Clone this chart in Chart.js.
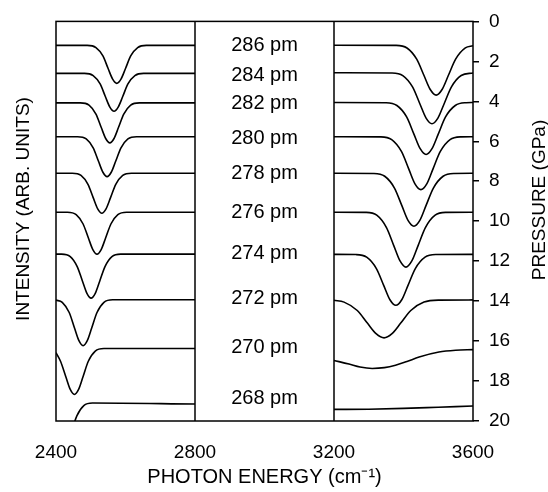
<!DOCTYPE html>
<html>
<head>
<meta charset="utf-8">
<script src="https://cdn.jsdelivr.net/npm/chart.js@4/dist/chart.umd.min.js"></script>
<style>
  html, body { margin: 0; padding: 0; background: #fff; }
  #wrap { width: 548px; height: 492px; }
</style>
</head>
<body>
<div id="wrap"><canvas id="spectra" width="548" height="492"></canvas></div>
<script>
// Axis values
const energyTicks = [2400, 2800, 3200, 3600];
const gapEdges = [2800, 3200];
const pressureMin = 0;
const pressureMax = 20;

// Bond length labels in the middle box
const pmLabels = ['286 pm', '284 pm', '282 pm', '280 pm', '278 pm', '276 pm', '274 pm', '272 pm', '270 pm', '268 pm'];
const labelPressure = [1.19, 2.69, 4.13, 5.87, 7.61, 9.55, 11.64, 13.88, 16.32, 18.86];
const labelEnergy = 3000;

// Low band (2400-2800) spectra, [energy, pressure offset]
const low286 = [[2400,1.2],[2490,1.2],[2515,1.31],[2535,1.73],[2550,2.36],[2563,2.89],[2575,3.1],[2587,2.89],[2600,2.36],[2615,1.73],[2635,1.31],[2660,1.2],[2800,1.2]];
const low284 = [[2400,2.6],[2482,2.6],[2507,2.71],[2527,3.13],[2542,3.76],[2555,4.29],[2567,4.5],[2579,4.29],[2592,3.76],[2607,3.13],[2627,2.71],[2652,2.6],[2800,2.6]];
const low282 = [[2400,4.08],[2470,4.08],[2495,4.19],[2515,4.64],[2530,5.3],[2543,5.86],[2555,6.08],[2567,5.86],[2580,5.3],[2595,4.64],[2615,4.19],[2640,4.08],[2800,4.08]];
const low280 = [[2400,5.77],[2462,5.77],[2487,5.88],[2507,6.33],[2522,6.99],[2535,7.55],[2547,7.77],[2559,7.55],[2572,6.99],[2587,6.33],[2607,5.88],[2632,5.77],[2800,5.77]];
const low278 = [[2400,7.6],[2447,7.6],[2472,7.71],[2492,8.16],[2507,8.82],[2520,9.38],[2532,9.6],[2544,9.38],[2557,8.82],[2572,8.16],[2592,7.71],[2617,7.6],[2800,7.6]];
const low276 = [[2400,9.55],[2433,9.55],[2458,9.67],[2478,10.14],[2493,10.83],[2506,11.42],[2518,11.65],[2530,11.42],[2543,10.83],[2558,10.14],[2578,9.67],[2603,9.55],[2800,9.55]];
const low274 = [[2400,11.65],[2416,11.65],[2441,11.77],[2461,12.27],[2476,12.99],[2489,13.61],[2501,13.85],[2513,13.61],[2526,12.99],[2541,12.27],[2561,11.77],[2586,11.65],[2800,11.65]];
const low272 = [[2400,13.95],[2418,14.06],[2438,14.57],[2453,15.33],[2466,15.98],[2478,16.23],[2490,15.98],[2503,15.33],[2518,14.57],[2538,14.06],[2563,13.93],[2800,13.93]];
const low270 = [[2400,16.58],[2413,17.01],[2428,17.77],[2441,18.42],[2453,18.67],[2465,18.42],[2478,17.77],[2493,17.01],[2513,16.5],[2538,16.37],[2800,16.37]];
const low268 = [[2400,20.78],[2420,21.4],[2432,21.15],[2445,20.5],[2460,19.74],[2480,19.23],[2505,19.1],[2800,19.15]];

// High band (3200-3600) spectra
const high286 = [[3200,1.19],[3379,1.2],[3410,1.33],[3438,1.89],[3459,2.71],[3477,3.41],[3494,3.69],[3511,3.41],[3529,2.71],[3550,1.89],[3578,1.33],[3600,1.22]];
const high284 = [[3200,2.57],[3367,2.58],[3398,2.71],[3426,3.28],[3447,4.12],[3465,4.84],[3482,5.12],[3499,4.84],[3517,4.12],[3538,3.28],[3566,2.71],[3600,2.58]];
const high282 = [[3200,4.06],[3350,4.07],[3381,4.21],[3409,4.78],[3430,5.64],[3448,6.37],[3465,6.66],[3482,6.37],[3500,5.64],[3521,4.78],[3549,4.21],[3580,4.07],[3600,4.06]];
const high280 = [[3200,5.77],[3335,5.78],[3366,5.92],[3394,6.51],[3415,7.38],[3433,8.13],[3450,8.42],[3467,8.13],[3485,7.38],[3506,6.51],[3534,5.92],[3565,5.78],[3600,5.77]];
const high278 = [[3200,7.6],[3315,7.61],[3346,7.75],[3374,8.34],[3395,9.21],[3413,9.96],[3430,10.25],[3447,9.96],[3465,9.21],[3486,8.34],[3514,7.75],[3545,7.61],[3600,7.6]];
const high276 = [[3200,9.55],[3292,9.56],[3323,9.7],[3351,10.32],[3372,11.22],[3390,11.99],[3407,12.3],[3424,11.99],[3442,11.22],[3463,10.32],[3491,9.7],[3522,9.56],[3600,9.55]];
const high274 = [[3200,11.66],[3263,11.67],[3294,11.8],[3322,12.37],[3343,13.21],[3361,13.93],[3378,14.21],[3395,13.93],[3413,13.21],[3434,12.37],[3462,11.8],[3493,11.67],[3600,11.66]];
const high272 = [[3200,13.96],[3229,14.05],[3267,14.47],[3296,15.1],[3321,15.63],[3344,15.84],[3367,15.63],[3392,15.1],[3421,14.47],[3459,14.05],[3502,13.95],[3600,13.94]];
const high270 = [[3200,16.97],[3243,17.15],[3275,17.3],[3310,17.37],[3345,17.33],[3377,17.21],[3410,17.02],[3445,16.8],[3502,16.55],[3550,16.46],[3600,16.43]];
const high268 = [[3200,19.42],[3300,19.41],[3400,19.37],[3500,19.31],[3600,19.25]];

const curves = [
    low286, low284, low282, low280, low278, low276, low274, low272, low270, low268,
    high286, high284, high282, high280, high278, high276, high274, high272, high270, high268
];

const FONT = '"Liberation Sans", Arial, Helvetica, sans-serif';
Chart.defaults.font.family = FONT;
Chart.defaults.font.size = 19;
Chart.defaults.color = '#000';

// Frame, gap box, pm labels and side titles
const overlay = {
    id: 'overlay',
    afterDatasetsDraw(chart) {
        const { ctx, chartArea: a, scales: { x, y } } = chart;
        ctx.save();
        ctx.strokeStyle = '#000';
        ctx.lineWidth = 1.5;
        ctx.strokeRect(a.left, a.top, a.right - a.left, a.bottom - a.top);
        gapEdges.forEach(v => {
            const px = x.getPixelForValue(v);
            ctx.beginPath();
            ctx.moveTo(px, a.top);
            ctx.lineTo(px, a.bottom);
            ctx.stroke();
        });

        ctx.fillStyle = '#000';
        ctx.font = '20px ' + FONT;
        ctx.textAlign = 'center';
        ctx.textBaseline = 'middle';
        pmLabels.forEach((t, i) => {
            ctx.fillText(t, x.getPixelForValue(labelEnergy), y.getPixelForValue(labelPressure[i]));
        });

        ctx.font = '19px ' + FONT;
        ctx.textBaseline = 'alphabetic';
        ctx.translate(29, 209);
        ctx.rotate(-Math.PI / 2);
        ctx.fillText('INTENSITY (ARB. UNITS)', 0, 0);
        ctx.restore();

        ctx.save();
        ctx.fillStyle = '#000';
        ctx.font = '19px ' + FONT;
        ctx.textAlign = 'center';
        ctx.textBaseline = 'alphabetic';
        ctx.translate(545, 200);
        ctx.rotate(-Math.PI / 2);
        ctx.fillText('PRESSURE (GPa)', 0, 0);
        ctx.restore();
    }
};

// Chart Setup
const ctx = document.getElementById('spectra').getContext('2d');
const spectraChart = new Chart(ctx, {
    type: 'line',
    data: {
        datasets: curves.map(c => ({
            data: c.map(p => ({ x: p[0], y: p[1] })),
            borderColor: '#000',
            borderWidth: 1.6,
            pointRadius: 0,
            fill: false,
            cubicInterpolationMode: 'monotone',
            clip: 0
        }))
    },
    options: {
        responsive: false,
        animation: false,
        devicePixelRatio: 1,
        layout: { padding: { top: 19, left: 56, right: 0, bottom: 0 } },
        plugins: { legend: { display: false }, tooltip: { enabled: false } },
        scales: {
            x: {
                type: 'linear',
                min: energyTicks[0],
                max: energyTicks[energyTicks.length - 1],
                afterBuildTicks: s => { s.ticks = energyTicks.map(v => ({ value: v })); },
                afterFit: s => { s.height = 71; },
                grid: { display: false, drawTicks: false },
                border: { display: false },
                ticks: {
                    padding: 20,
                    maxRotation: 0,
                    autoSkip: false,
                    callback: v => String(v)
                },
                title: {
                    display: true,
                    text: 'PHOTON ENERGY (cm\u207B\u00B9)',
                    font: { size: 20 },
                    padding: { top: 0, bottom: 3 }
                }
            },
            y: {
                type: 'linear',
                position: 'right',
                reverse: true,
                min: pressureMin,
                max: pressureMax,
                afterFit: s => { s.width = 75; },
                grid: {
                    drawOnChartArea: false,
                    drawTicks: true,
                    tickLength: 6,
                    tickColor: '#000',
                    lineWidth: 1.5
                },
                border: { display: false },
                ticks: { stepSize: 2, padding: 10 }
            }
        }
    },
    plugins: [overlay]
});
</script>
</body>
</html>
